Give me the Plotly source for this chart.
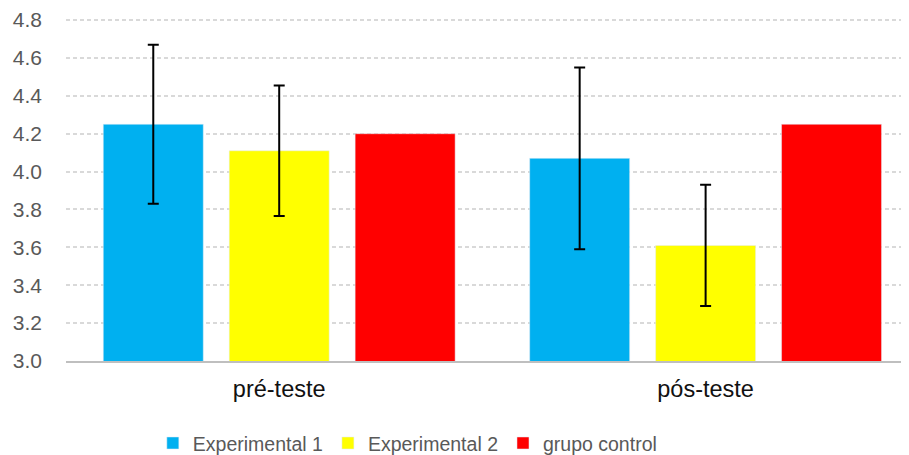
import plotly.graph_objects as go

categories = ["pré-teste", "pós-teste"]
series_names = ["Experimental 1", "Experimental 2", "grupo control"]
exp1 = [4.25, 4.07]
exp2 = [4.11, 3.61]
control = [4.20, 4.25]
exp1_err = [0.42, 0.48]
exp2_err = [0.345, 0.32]
colors = ["#00B0F0", "#FFFF00", "#FF0000"]
y_ticks = [3.0, 3.2, 3.4, 3.6, 3.8, 4.0, 4.2, 4.4, 4.6, 4.8]

fig = go.Figure()
err_style = dict(type="data", color="black", thickness=2, width=5.5, visible=True)
fig.add_trace(go.Bar(name=series_names[0], x=categories, y=exp1, marker_color=colors[0],
                     error_y=dict(array=exp1_err, **err_style)))
fig.add_trace(go.Bar(name=series_names[1], x=categories, y=exp2, marker_color=colors[1],
                     error_y=dict(array=exp2_err, **err_style)))
fig.add_trace(go.Bar(name=series_names[2], x=categories, y=control, marker_color=colors[2]))

font_family = "Liberation Sans, Arial, sans-serif"
# page body has an 8px margin, so the figure is 8px smaller and offset accordingly
fig.update_layout(
    width=901, height=447,
    margin=dict(l=58, r=0, t=10, b=94, autoexpand=False),
    paper_bgcolor="white", plot_bgcolor="white",
    barmode="group", bargap=0.114, bargroupgap=0.206,
    font=dict(family=font_family, color="#595959"),
    showlegend=True,
    legend=dict(orientation="h", x=0.103, xanchor="left", y=-0.24, yanchor="middle",
                font=dict(size=19.5, color="#595959"), traceorder="normal",
                itemwidth=30, tracegroupgap=0),
    xaxis=dict(range=[-0.5, 1.477], showline=True, linecolor="#BFBFBF", linewidth=1.5,
               showgrid=False, tickfont=dict(size=23.5, color="#111111"),
               ticks="", ticklabelstandoff=6),
    yaxis=dict(range=[3.0, 4.811], tickvals=y_ticks, ticktext=[f"{v:.1f}" for v in y_ticks],
               showgrid=True, gridcolor="#D9D9D9", griddash="4px,3px", gridwidth=1.5,
               zeroline=False, showline=False, tickfont=dict(size=21, color="#595959"),
               ticks="", ticklabelstandoff=23),
)
fig.write_html("out.html")
